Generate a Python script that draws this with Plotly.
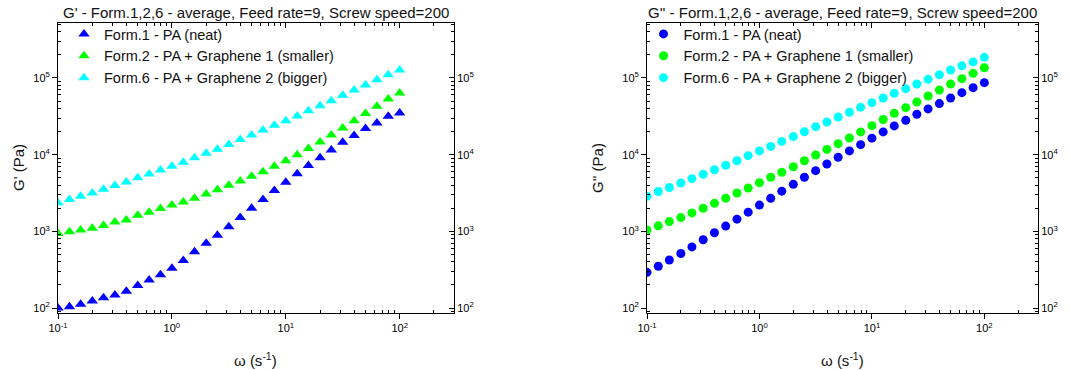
import plotly.graph_objects as go

omega = [0.1, 0.126, 0.158, 0.2, 0.251, 0.316, 0.398, 0.501, 0.631, 0.794,
         1.0, 1.26, 1.58, 2.0, 2.51, 3.16, 3.98, 5.01, 6.31, 7.94,
         10.0, 12.6, 15.8, 20.0, 25.1, 31.6, 39.8, 50.1, 63.1, 79.4, 100.0]

gp_form1 = [100, 104, 112, 123, 136, 148, 166, 196, 232, 271,
            330, 417, 540, 700, 890, 1150, 1520, 2000, 2600, 3400,
            4360, 5640, 7200, 9100, 11500, 14500, 17800, 21900, 25900, 31600, 35000]
gp_form2 = [940, 990, 1040, 1100, 1190, 1320, 1410, 1620, 1780, 1990,
            2200, 2410, 2700, 3080, 3490, 3990, 4540, 5220, 6000, 7040,
            8340, 10000, 12000, 14600, 18100, 22300, 27700, 34400, 42700, 53200, 63700]
gp_form6 = [2360, 2600, 2870, 3170, 3550, 3970, 4400, 5000, 5600, 6310,
            7080, 7980, 9100, 10400, 11800, 13600, 15800, 18000, 21000, 24200,
            27700, 31900, 37500, 43500, 50600, 59400, 69700, 81000, 95100, 110000, 127000]

gpp_form1 = [292, 350, 423, 514, 627, 776, 960, 1170, 1440, 1780,
             2200, 2700, 3340, 4100, 5070, 6180, 7560, 9240, 11200, 13500,
             16400, 19800, 23700, 28000, 33600, 39500, 46300, 54800, 64400, 74800, 86900]
gpp_form2 = [1040, 1180, 1340, 1510, 1740, 2000, 2320, 2700, 3160, 3680,
             4300, 5070, 5900, 6960, 8340, 9900, 11700, 13900, 16500, 19800,
             23900, 28700, 34600, 41000, 48600, 58200, 69700, 83500, 98000, 115000, 136000]
gpp_form6 = [2870, 3310, 3730, 4270, 4860, 5540, 6360, 7280, 8340, 9700,
             11200, 12800, 14900, 17200, 19900, 23200, 26700, 31000, 35700, 41400,
             47700, 54800, 63100, 72600, 83500, 96000, 110000, 127000, 144000, 162000, 186000]

series_names = ["Form.1 - PA (neat)", "Form.2 - PA + Graphene 1 (smaller)",
                "Form.6 - PA + Graphene 2 (bigger)"]
colors = ["#0000ff", "#00ff00", "#00ffff"]

x_tickvals = [0.1, 1, 10, 100]
x_ticktext = ["10<sup>-1</sup>", "10<sup>0</sup>", "10<sup>1</sup>", "10<sup>2</sup>"]
y_tickvals = [100, 1000, 10000, 100000]
y_ticktext = ["10<sup>2</sup>", "10<sup>3</sup>", "10<sup>4</sup>", "10<sup>5</sup>"]

titles = ["G' - Form.1,2,6 - average, Feed rate=9, Screw speed=200",
          "G'' - Form.1,2,6 - average, Feed rate=9, Screw speed=200"]
ytitles = ["G' (Pa)", "G'' (Pa)"]
xtitle = "\u03c9 (s<sup>-1</sup>)"

FONT = "Arial, Liberation Sans, sans-serif"
W, H = 1070, 370

minor_x = [m * 10 ** e for e in range(-1, 3) for m in range(2, 10) if m * 10 ** e <= 300]
minor_y = [m * 10 ** e for e in range(1, 6) for m in range(2, 10) if 85 <= m * 10 ** e <= 5.2e5]

xr = [-1, 2.477]
yr = [1.935, 5.717]

fig = go.Figure()

left_data = [gp_form1, gp_form2, gp_form6]
right_data = [gpp_form1, gpp_form2, gpp_form6]

for i, (name, col) in enumerate(zip(series_names, colors)):
    fig.add_trace(go.Scatter(x=omega, y=left_data[i], mode="markers", name=name,
                             marker=dict(symbol="triangle-up", size=10, color=col),
                             xaxis="x", yaxis="y", legend="legend"))
for i, (name, col) in enumerate(zip(series_names, colors)):
    fig.add_trace(go.Scatter(x=omega, y=right_data[i], mode="markers", name=name,
                             marker=dict(symbol="circle", size=9, color=col),
                             xaxis="x2", yaxis="y2", legend="legend2"))

# empty traces to activate overlay (frame) axes
fig.add_trace(go.Scatter(x=[], y=[], xaxis="x3", yaxis="y3", showlegend=False, hoverinfo="skip"))
fig.add_trace(go.Scatter(x=[], y=[], xaxis="x4", yaxis="y4", showlegend=False, hoverinfo="skip"))

dom_x1 = [58 / W, 454 / W]
dom_x2 = [647 / W, 1038 / W]
dom_y = [(H - 313) / H, (H - 23) / H]

tickfont = dict(family=FONT, size=11, color="black")


def xaxis_main(domain, anchor):
    return dict(type="log", range=xr, domain=domain, anchor=anchor, automargin=False,
                tickvals=x_tickvals, ticktext=x_ticktext, ticks="outside", ticklen=5,
                tickwidth=1, tickcolor="black", showline=True, linecolor="black", linewidth=1,
                showgrid=False, zeroline=False, tickfont=tickfont,
                minor=dict(tickvals=minor_x, ticks="inside", ticklen=3, tickcolor="black", showgrid=False))


def xaxis_top(domain, anchor, over):
    return dict(type="log", range=xr, domain=domain, anchor=anchor, overlaying=over, side="top",
                automargin=False,
                tickvals=x_tickvals, ticks="inside", ticklen=5, tickwidth=1, tickcolor="black",
                showticklabels=False, showline=True, linecolor="black", linewidth=1,
                showgrid=False, zeroline=False,
                minor=dict(tickvals=minor_x, ticks="inside", ticklen=3, tickcolor="black", showgrid=False))


def yaxis_main(anchor):
    return dict(type="log", range=yr, domain=dom_y, anchor=anchor, automargin=False,
                tickvals=y_tickvals, ticktext=y_ticktext, ticks="outside", ticklen=5,
                tickwidth=1, tickcolor="black", showline=True, linecolor="black", linewidth=1,
                showgrid=False, zeroline=False, tickfont=tickfont,
                minor=dict(tickvals=minor_y, ticks="inside", ticklen=3, tickcolor="black", showgrid=False))


def yaxis_right(anchor, over):
    return dict(type="log", range=yr, domain=dom_y, anchor=anchor, overlaying=over, side="right",
                automargin=False,
                tickvals=y_tickvals, ticktext=y_ticktext, ticks="inside", ticklen=5,
                tickwidth=1, tickcolor="black", showline=True, linecolor="black", linewidth=1,
                showgrid=False, zeroline=False, tickfont=tickfont,
                minor=dict(tickvals=minor_y, ticks="inside", ticklen=3, tickcolor="black", showgrid=False))


legend_common = dict(font=dict(family=FONT, size=14.5, color="#111"), bgcolor="rgba(0,0,0,0)",
                     borderwidth=0, xanchor="left", yanchor="top", tracegroupgap=0,
                     itemsizing="trace")

fig.update_layout(
    width=W, height=H,
    margin=dict(l=0, r=0, t=0, b=0, autoexpand=False),
    paper_bgcolor="white", plot_bgcolor="white",
    font=dict(family=FONT, color="black"),
    xaxis=xaxis_main(dom_x1, "y"),
    yaxis=yaxis_main("x"),
    xaxis2=xaxis_main(dom_x2, "y2"),
    yaxis2=yaxis_main("x2"),
    xaxis3=xaxis_top(dom_x1, "y", "x"),
    yaxis3=yaxis_right("x", "y"),
    xaxis4=xaxis_top(dom_x2, "y2", "x2"),
    yaxis4=yaxis_right("x2", "y2"),
    legend=dict(x=64 / W, y=(H - 18) / H, **legend_common),
    legend2=dict(x=643.5 / W, y=(H - 18) / H, **legend_common),
    showlegend=True,
)

annos = []
for dom, t in zip([dom_x1, dom_x2], titles):
    annos.append(dict(text=t, x=(dom[0] + dom[1]) / 2, y=(H - 12) / H, xref="paper", yref="paper",
                      showarrow=False, xanchor="center", yanchor="middle",
                      font=dict(family=FONT, size=15, color="#111")))
    annos.append(dict(text=xtitle, x=(dom[0] + dom[1]) / 2, y=(H - 359) / H, xref="paper", yref="paper",
                      showarrow=False, xanchor="center", yanchor="middle",
                      font=dict(family=FONT, size=15, color="#111")))
for xpix, t in zip([18, 597], ytitles):
    annos.append(dict(text=t, x=xpix / W, y=(H - 168) / H, xref="paper", yref="paper",
                      showarrow=False, xanchor="center", yanchor="middle", textangle=-90,
                      font=dict(family=FONT, size=15, color="#111")))
fig.update_layout(annotations=annos)

fig.write_html("out.html")
